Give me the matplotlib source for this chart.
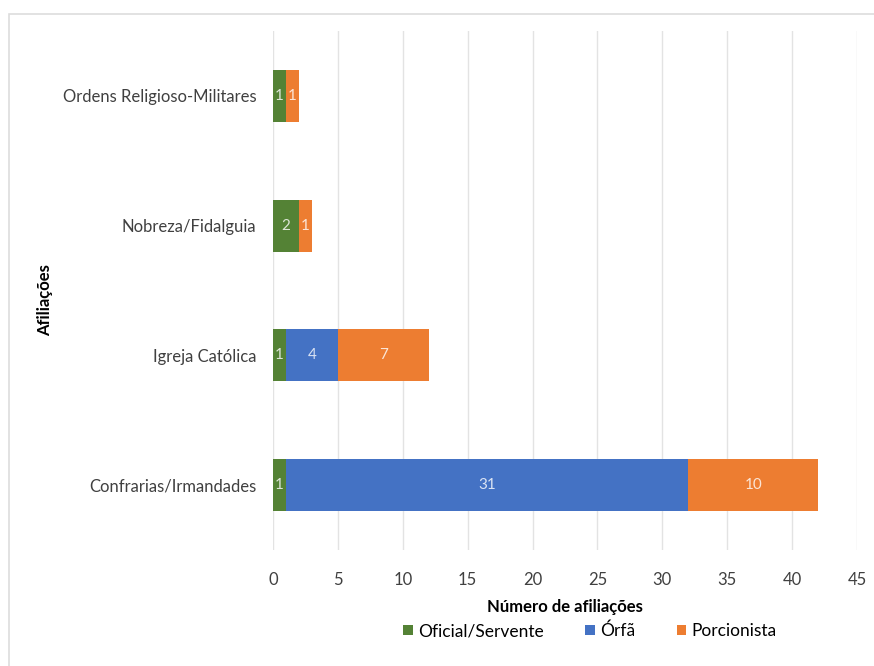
import matplotlib
matplotlib.use("Agg")
import matplotlib.pyplot as plt
from matplotlib.patches import Rectangle

categories = ["Confrarias/Irmandades", "Igreja Católica", "Nobreza/Fidalguia", "Ordens Religioso-Militares"]
series_names = ["Oficial/Servente", "Órfã", "Porcionista"]
oficial = [1, 1, 2, 1]
orfa = [31, 4, 0, 0]
porcionista = [10, 7, 1, 1]
colors = ["#548235", "#4472C4", "#ED7D31"]
xticks = list(range(0, 50, 5))

plt.rcParams['font.family'] = ['Lato', 'DejaVu Sans']

fig = plt.figure(figsize=(8.74, 6.66), dpi=100)
ax = fig.add_axes([273/874, 1-550/666, (857-273)/874, (550-31)/666])

ypos = list(range(len(categories)))
left = [0]*len(categories)
for name, vals, col in zip(series_names, [oficial, orfa, porcionista], colors):
    bars = ax.barh(ypos, vals, left=left, height=0.40, color=col, label=name, zorder=3)
    for b, v, l in zip(bars, vals, left):
        if v > 0:
            ax.text(l + v/2, b.get_y() + b.get_height()/2, str(v), ha='center', va='center',
                    color='white', fontsize=11, zorder=4, alpha=0.8)
    left = [a+b for a, b in zip(left, vals)]

ax.set_xlim(0, 45)
ax.set_ylim(-0.5, 3.5)
ax.set_xticks(xticks)
ax.set_xticklabels([str(t) for t in xticks], fontsize=12, color='#404040')
ax.set_yticks(ypos)
ax.set_yticklabels(categories, fontsize=12, color='#404040')
ax.tick_params(axis='x', length=0, pad=16)
ax.tick_params(axis='y', length=0, pad=12)
ax.grid(axis='x', color='#E3E3E3', linewidth=1, zorder=0)
for s in ax.spines.values():
    s.set_visible(False)

ax.set_xlabel("Número de afiliações", fontsize=12, fontweight='bold', labelpad=8)
fig.text(45/874, 1-300/666, "Afiliações", rotation=90, ha='center', va='center',
         fontsize=12, fontweight='bold')

handles, labels = ax.get_legend_handles_labels()
fig.legend(handles, labels, loc='center', bbox_to_anchor=(590/874, 1-631/666), ncol=3,
           frameon=False, fontsize=12.5, handlelength=0.55, handleheight=0.55,
           handletextpad=0.3, columnspacing=2.4)

fig.patches.append(Rectangle((9/874, -0.05), 1.0, (666-14)/666 + 0.05, transform=fig.transFigure,
                             fill=False, edgecolor='#DDDDDD', linewidth=1.2))

fig.savefig("out.png", dpi=100, facecolor='white')
